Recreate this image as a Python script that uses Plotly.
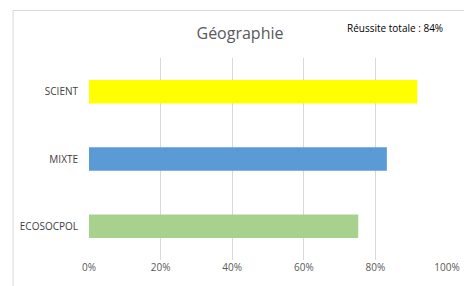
import plotly.graph_objects as go

categories = ["ECOSOCPOL", "MIXTE", "SCIENT"]
values = [0.752, 0.832, 0.917]
colors = ["#A9D18E", "#5B9BD5", "#FFFF00"]
tick_vals = [0, 0.2, 0.4, 0.6, 0.8, 1.0]
tick_text = ["0%", "20%", "40%", "60%", "80%", "100%"]
title_text = "Géographie"
note_text = "Réussite totale : 84%"

OFF = 8  # page body margin
W, H = 472 - OFF, 286 - OFF
L, T = 84 - OFF, 58 - OFF
R = 472 - 447
B = 286 - 262
pw, ph = W - L - R, H - T - B

fig = go.Figure(go.Bar(
    x=values, y=categories, orientation="h",
    marker=dict(color=colors, line=dict(width=0)),
    width=0.35, hoverinfo="skip",
))

fig.update_layout(
    width=W, height=H,
    margin=dict(l=L, r=R, t=T, b=B),
    paper_bgcolor="white", plot_bgcolor="white",
    showlegend=False,
    font=dict(family="Open Sans", size=10, color="#595959"),
    title=dict(text=title_text, x=(240 - OFF) / W, xanchor="center",
               y=1 - (33 - OFF) / H, yanchor="middle",
               font=dict(size=16, color="#595959", family="Open Sans")),
    xaxis=dict(range=[0, 1], tickvals=tick_vals, ticktext=tick_text,
               showgrid=True, gridcolor="#D9D9D9", gridwidth=1,
               zeroline=False, showline=False, ticks="",
               tickfont=dict(size=10, color="#595959"), fixedrange=True),
    yaxis=dict(showgrid=False, zeroline=False, showline=False, ticks="",
               ticklabelstandoff=10,
               tickfont=dict(size=10, color="#404040"), fixedrange=True),
    annotations=[dict(text=note_text, xref="paper", yref="paper",
                      x=(445 - 84) / pw, y=1 + (58 - 28) / ph,
                      xanchor="right", yanchor="middle", showarrow=False,
                      font=dict(size=10, color="#000000", family="Open Sans"))],
    shapes=[dict(type="rect", xref="paper", yref="paper",
                 x0=(7 - 84) / pw, x1=1.3, y0=-0.3, y1=1 + (58 - 10) / ph,
                 line=dict(color="#D9D9D9", width=1), layer="below")],
)

fig.write_html("out.html")
